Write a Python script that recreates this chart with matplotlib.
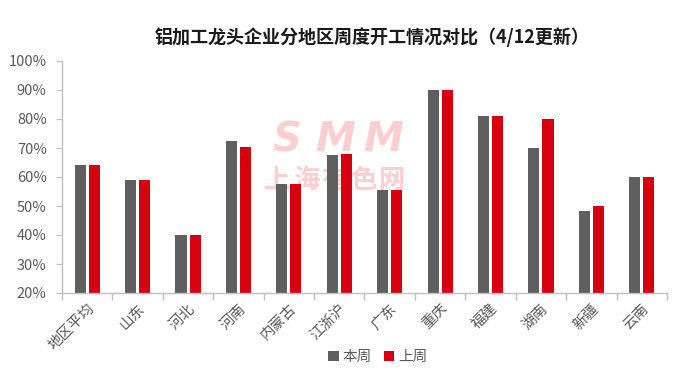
import matplotlib
matplotlib.use("Agg")
import matplotlib.pyplot as plt
import numpy as np
from matplotlib.ticker import FixedLocator, PercentFormatter

plt.rcParams['font.family'] = ['Noto Sans CJK SC', 'DejaVu Sans']

categories = ["地区平均", "山东", "河北", "河南", "内蒙古", "江浙沪", "广东", "重庆", "福建", "湖南", "新疆", "云南"]
this_week = [64, 59, 40, 72.4, 57.5, 67.6, 55.5, 90, 81, 70, 48.3, 60]
last_week = [64, 59, 40, 70.3, 57.5, 67.9, 55.5, 90, 81, 80, 50, 60]
series_names = ["本周", "上周"]
title = "铝加工龙头企业分地区周度开工情况对比（4/12更新）"
wm_logo = "SMM"
wm_name = "上海有色网"

gray = "#5f5f5f"
red = "#d7000f"
axis_col = "#bfbfbf"
text_col = "#595959"
wm_col = "#ffcece"

fig = plt.figure(figsize=(6.94, 3.76), dpi=100)
ax = fig.add_axes([62/694, 1-293/376, 605/694, 232/376])

x = np.arange(len(categories))
w = 0.22
b1 = ax.bar(x - 0.14, this_week, w, color=gray, label=series_names[0], zorder=2)
b2 = ax.bar(x + 0.14, last_week, w, color=red, label=series_names[1], zorder=2)

ax.set_xlim(-0.5, len(categories) - 0.5)
ax.set_ylim(20, 100)
ax.set_yticks(np.arange(20, 101, 10))
ax.yaxis.set_major_formatter(PercentFormatter(decimals=0))
ax.set_xticks(x)
ax.set_xticklabels(categories, rotation=45, ha='right', rotation_mode='anchor',
                   fontsize=10.5, color=text_col)
ax.tick_params(axis='x', which='major', length=0, pad=6)
ax.xaxis.set_minor_locator(FixedLocator(np.arange(-0.5, len(categories), 1)))
ax.tick_params(axis='x', which='minor', length=5, color=axis_col, width=1)
ax.tick_params(axis='y', length=4, color=axis_col, labelsize=10.5, labelcolor=text_col, pad=7)

for s in ['top', 'right']:
    ax.spines[s].set_visible(False)
for s in ['left', 'bottom']:
    ax.spines[s].set_color(axis_col)
    ax.spines[s].set_linewidth(1)

# watermark (behind bars)
wm_left, wm_right = 263/694, 407/694
n = len(wm_logo)
for i, ch in enumerate(wm_logo):
    xc = wm_left + (i + 0.5) * (wm_right - wm_left) / n
    ax.text(xc, 1-140/376, ch, fontsize=29, fontweight='bold', fontstyle='oblique',
            family='DejaVu Sans', color=wm_col, ha='center', va='center',
            transform=fig.transFigure, zorder=1, clip_on=False)
n = len(wm_name)
for i, ch in enumerate(wm_name):
    xc = wm_left + (i + 0.5) * (wm_right - wm_left) / n
    ax.text(xc, 1-180/376, ch, fontsize=19, fontweight='bold',
            color=wm_col, ha='center', va='center',
            transform=fig.transFigure, zorder=1, clip_on=False)

fig.text(372/694, 1-37/376, title, fontsize=13, fontweight='bold',
         color='#1a1a1a', ha='center', va='center')

fig.legend(handles=[b1, b2], labels=series_names, loc='center',
           bbox_to_anchor=(378/694, 1-357/376), ncol=2, frameon=False,
           fontsize=10.5, labelcolor=text_col, handlelength=0.7, handleheight=0.7,
           handletextpad=0.3, columnspacing=0.8)

fig.savefig("out.png", dpi=100)
